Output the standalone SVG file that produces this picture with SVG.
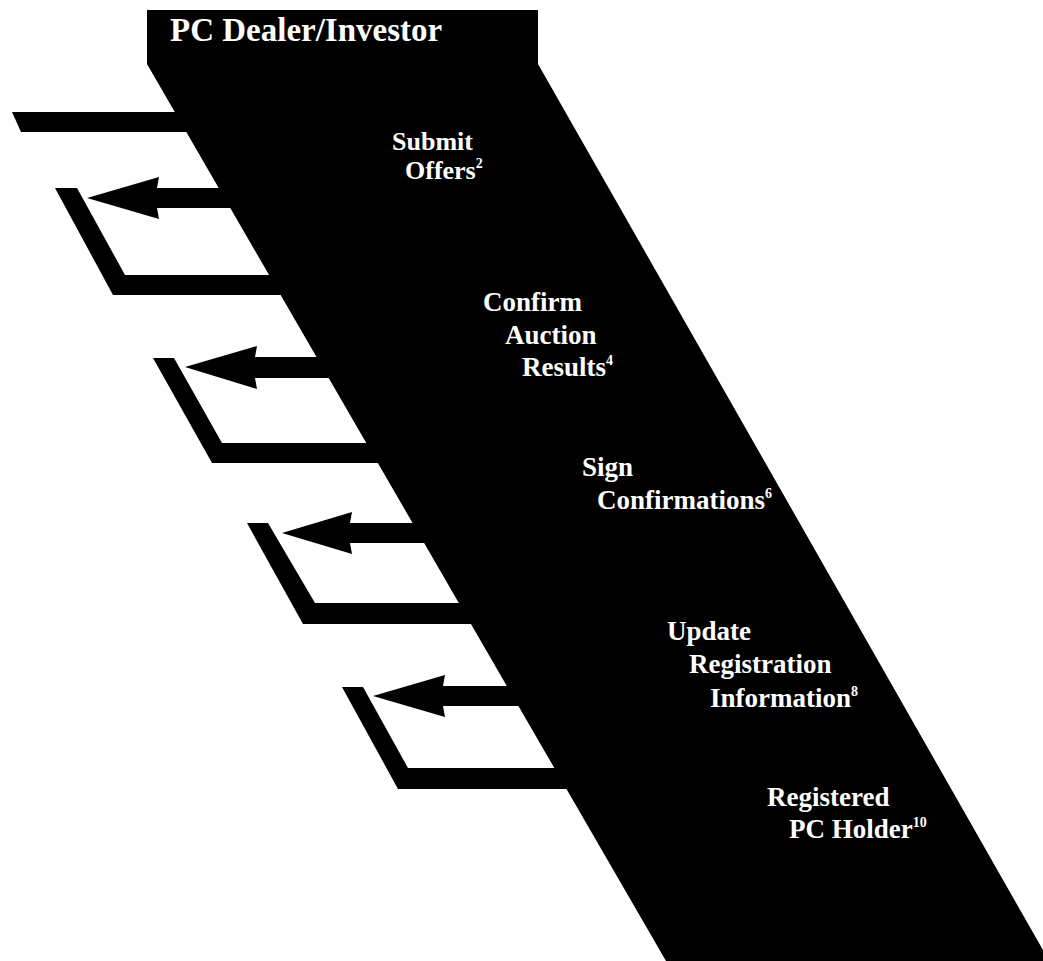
<svg xmlns="http://www.w3.org/2000/svg" width="1043" height="961" viewBox="0 0 1043 961">
<style>
.blk{fill:#000;stroke:none}
.lbl{font-family:"Liberation Serif","Times New Roman",serif;font-weight:bold;font-size:27px;fill:#fff}
.ttl{font-size:33px}
.sm{font-size:26px}
.sup{font-size:14px}
</style>
<rect width="1043" height="961" fill="#fff"/>
<g id="dealer-band">
<polygon class="blk" points="147,10 538,10 538,64 1043,950 1043,961 666,961 147,64"/>
<text class="lbl ttl" x="170" y="41">PC Dealer/Investor</text>
</g>
<g id="connectors">
<polygon id="bar-in" class="blk" points="12,112 260,112 260,132 21,132"/>
<polygon id="arrow-1" class="blk" points="87,198 159,177 157,188 260,188 260,208 157,208 159,219"/>
<polygon id="return-1" class="blk" points="55,188 77,188 125,275 320,275 320,295 113,295"/>
<polygon id="arrow-2" class="blk" points="185,367 257,346 255,357 350,357 350,378 255,378 257,389"/>
<polygon id="return-2" class="blk" points="153,358 174,358 222,443 410,443 410,463 212,463"/>
<polygon id="arrow-3" class="blk" points="282,533 352,512 350,523 450,523 450,543 350,543 352,554"/>
<polygon id="return-3" class="blk" points="247,523 268,523 315,603 500,603 500,624 303,624"/>
<polygon id="arrow-4" class="blk" points="373,696 445,675 443,686 540,686 540,706 443,706 445,717"/>
<polygon id="return-4" class="blk" points="342,687 363,687 408,768 600,768 600,789 398,789"/>
</g>
<g id="step-submit">
<text class="lbl sm" x="392" y="150">Submit</text>
<text class="lbl sm" x="405" y="179">Offers<tspan class="sup" dy="-11">2</tspan></text>
</g>
<g id="step-confirm">
<text class="lbl" x="483" y="311">Confirm</text>
<text class="lbl" x="505" y="344">Auction</text>
<text class="lbl" x="522" y="376">Results<tspan class="sup" dy="-11">4</tspan></text>
</g>
<g id="step-sign">
<text class="lbl" x="582" y="476">Sign</text>
<text class="lbl" x="597" y="509">Confirmations<tspan class="sup" dy="-11">6</tspan></text>
</g>
<g id="step-update">
<text class="lbl" x="667" y="640">Update</text>
<text class="lbl" x="689" y="673">Registration</text>
<text class="lbl" x="710" y="707">Information<tspan class="sup" dy="-11">8</tspan></text>
</g>
<g id="step-registered">
<text class="lbl" x="767" y="806">Registered</text>
<text class="lbl" x="789" y="838">PC Holder<tspan class="sup" dy="-11">10</tspan></text>
</g>
</svg>
